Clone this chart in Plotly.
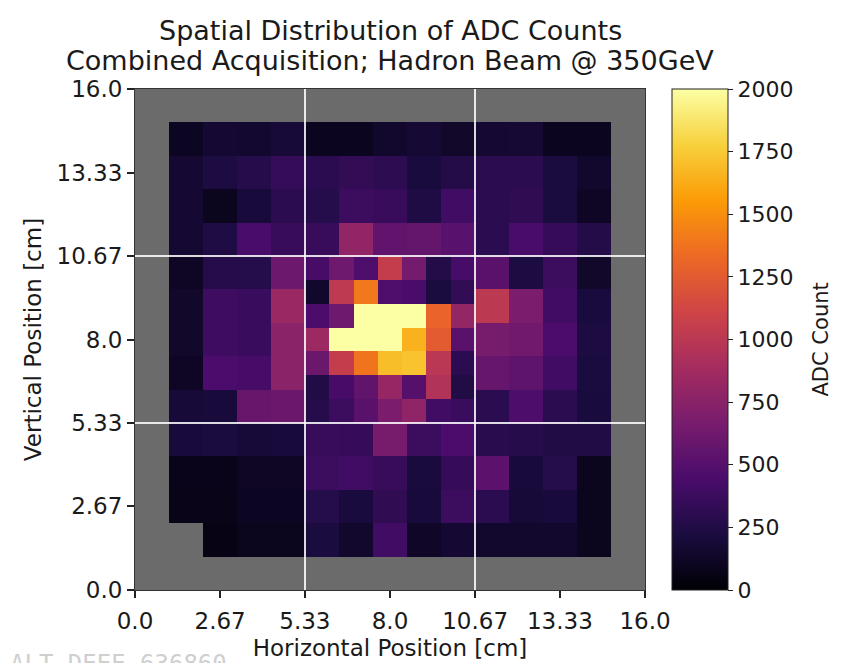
import numpy as np
import plotly.graph_objects as go

N = None

# Coarse towers: 15 x 15 cells of 16/15 cm, top row first (None = no readout)
coarse_rows = [
    [N] * 15,
    [N, 110, 170, 160, 190, 100, 100, 150, 180, 140, 170, 180, 100, 100, N],
    [N, 170, 230, 280, 340, 300, 330, 310, 210, 260, 300, 300, 220, 150, N],
    [N, 170, 90, 200, 300, 270, 380, 360, 240, 400, 300, 320, 220, 120, N],
    [N, 170, 240, 440, 360, 360, 790, 560, 570, 510, 300, 440, 350, 260, N],
    [N, 120, 280, 270, 610, N, N, N, N, N, 520, 230, 380, 140, N],
    [N, 140, 390, 370, 830, N, N, N, N, N, 1010, 680, 400, 210, N],
    [N, 140, 390, 370, 760, N, N, N, N, N, 660, 630, 450, 230, N],
    [N, 120, 450, 430, 760, N, N, N, N, N, 580, 540, 400, 220, N],
    [N, 190, 200, 590, 600, N, N, N, N, N, 300, 460, 300, 210, N],
    [N, 200, 220, 190, 200, 360, 350, 660, 380, 450, 290, 280, 250, 250, N],
    [N, 80, 80, 120, 120, 380, 400, 360, 210, 350, 530, 200, 270, 90, N],
    [N, 70, 70, 110, 110, 270, 210, 320, 200, 380, 300, 190, 200, 90, N],
    [N, N, 60, 90, 90, 220, 150, 400, 130, 170, 150, 150, 150, 90, N],
    [N] * 15,
]

# Fine central towers: 7 x 7 cells spanning 5.33-10.67 cm, top row first
fine_rows = [
    [430, 620, 470, 1050, 650, 260, 430],
    [150, 1020, 1400, 470, 440, 220, 330],
    [450, 620, 2100, 2300, 2150, 1300, 800],
    [850, 2050, 2400, 2200, 1650, 1250, 520],
    [600, 1050, 1380, 1700, 1720, 1000, 300],
    [250, 430, 550, 820, 500, 950, 250],
    [280, 380, 520, 680, 780, 400, 370],
]

tick_vals = [0.0, 2.67, 5.33, 8.0, 10.67, 13.33, 16.0]
tick_text = ["0.0", "2.67", "5.33", "8.0", "10.67", "13.33", "16.0"]
cbar_ticks = [0, 250, 500, 750, 1000, 1250, 1500, 1750, 2000]

extent = 16.0
fine_lo, fine_hi = extent / 3, 2 * extent / 3

coarse_edges = np.linspace(0, extent, len(coarse_rows) + 1)
fine_edges = np.linspace(fine_lo, fine_hi, len(fine_rows) + 1)

fig = go.Figure()
fig.add_trace(go.Heatmap(
    z=coarse_rows[::-1], x=coarse_edges, y=coarse_edges,
    coloraxis="coloraxis", hoverongaps=False,
))
fig.add_trace(go.Heatmap(
    z=fine_rows[::-1], x=fine_edges, y=fine_edges,
    coloraxis="coloraxis",
))

# region boundaries of the fine-granularity section
for b in (fine_lo, fine_hi):
    line = dict(color="rgba(255,255,255,0.85)", width=2)
    fig.add_shape(type="line", x0=b, x1=b, y0=0, y1=extent,
                  xref="x", yref="y", line=line, layer="above")
    fig.add_shape(type="line", x0=0, x1=extent, y0=b, y1=b,
                  xref="x", yref="y", line=line, layer="above")

axis_common = dict(
    range=[0, extent], tickvals=tick_vals, ticktext=tick_text,
    showgrid=False, zeroline=False, ticks="outside", ticklen=7,
    tickcolor="#222", tickwidth=1.5, showline=True, linecolor="#333",
    linewidth=1, mirror=True, tickfont=dict(size=23),
    title_font=dict(size=23), fixedrange=True, automargin=False,
)

fig.update_layout(
    width=846, height=663,
    margin=dict(l=135, r=201, t=89, b=73, autoexpand=False),
    paper_bgcolor="white",
    plot_bgcolor="#6b6b6b",
    font=dict(family="DejaVu Sans", color="#1a1a1a"),
    xaxis=dict(axis_common, ticklabelstandoff=3,
               title=dict(text="Horizontal Position [cm]", standoff=7)),
    yaxis=dict(axis_common, title=dict(text="Vertical Position [cm]", standoff=8)),
    coloraxis=dict(
        colorscale="Inferno", cmin=0, cmax=2000,
        colorbar=dict(
            thickness=56, len=1, lenmode="fraction", y=0.5, yanchor="middle",
            x=1.053, xanchor="left", xpad=0, ypad=0,
            outlinewidth=1, outlinecolor="#222",
            ticks="outside", ticklen=5, tickcolor="#222",
            tickvals=cbar_ticks, tickfont=dict(size=22),
        ),
    ),
    showlegend=False,
)

# colour bar label, rotated, to the right of the tick labels
fig.add_annotation(text="ADC Count", xref="paper", yref="paper",
                   x=(820 - 135) / 510, y=0.5, xanchor="center", yanchor="middle",
                   textangle=-90, showarrow=False, font=dict(size=21))

fig.add_annotation(text="Spatial Distribution of ADC Counts", xref="paper", yref="paper",
                   x=0.5, y=1 + (89 - 30) / 501, xanchor="center", yanchor="middle",
                   showarrow=False, font=dict(size=27))
fig.add_annotation(text="Combined Acquisition; Hadron Beam @ 350GeV", xref="paper", yref="paper",
                   x=0.5, y=1 + (89 - 60) / 501, xanchor="center", yanchor="middle",
                   showarrow=False, font=dict(size=27))
fig.add_annotation(text="ALT-DEEE-636860", xref="paper", yref="paper",
                   x=(8 - 135) / 510, y=(590 - 648) / 501, xanchor="left", yanchor="top",
                   showarrow=False, font=dict(size=24, family="DejaVu Sans Mono", color="#cfcfcf"))

fig.write_html("out.html")
